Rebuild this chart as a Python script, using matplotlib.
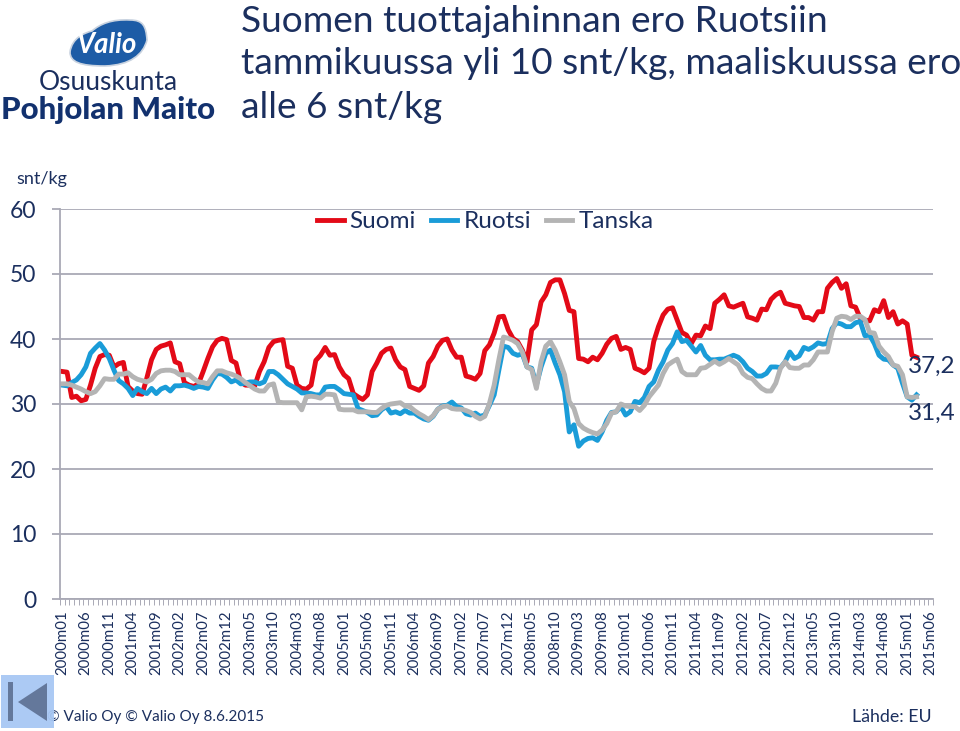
import matplotlib
matplotlib.use("Agg")
import matplotlib.pyplot as plt
from matplotlib.path import Path
from matplotlib.patches import PathPatch, Rectangle, Polygon

plt.rcParams['font.family'] = ['Lato', 'DejaVu Sans']

NAVY = '#1B2F5E'
GRID = '#A9A9B5'

suomi = [35.0,34.9,31.0,31.2,30.5,30.7,32.9,35.5,37.3,37.6,37.5,35.7,36.2,36.4,32.7,32.0,31.6,31.5,34.0,36.8,
 38.4,38.9,39.1,39.4,36.5,36.2,33.3,32.9,32.7,33.1,35.0,37.0,38.8,39.8,40.1,39.9,36.7,36.3,33.4,32.9,
 32.9,32.8,35.0,36.5,38.7,39.6,39.8,39.9,35.8,35.5,32.9,32.4,32.3,32.9,36.7,37.5,38.7,37.5,37.6,35.7,
 34.5,33.9,31.6,31.1,30.7,31.4,35.0,36.3,37.8,38.4,38.6,36.8,35.7,35.3,32.7,32.4,32.1,32.8,36.3,37.3,
 38.9,39.8,40.0,38.3,37.2,37.2,34.3,34.1,33.8,34.7,38.2,39.1,40.9,43.4,43.5,41.4,40.1,39.6,38.3,36.5,
 41.4,42.2,45.7,46.8,48.7,49.1,49.1,47.0,44.4,44.2,37.0,36.9,36.5,37.2,36.8,37.8,39.2,40.1,40.4,38.4,
 38.7,38.4,35.5,35.2,34.8,35.5,39.6,41.9,43.7,44.6,44.8,42.9,41.0,40.6,39.3,40.6,40.5,42.0,41.6,45.5,
 46.1,46.8,45.1,44.9,45.2,45.5,43.4,43.2,42.9,44.6,44.5,46.1,46.8,47.2,45.5,45.3,45.1,45.0,43.3,43.3,
 42.9,44.2,44.2,47.8,48.7,49.3,47.8,48.5,45.1,44.9,43.2,42.9,42.8,44.5,44.2,45.9,43.3,44.2,42.3,42.8,
 42.3,37.5,37.2]

ruotsi = [32.9,32.8,33.3,33.7,34.5,35.7,37.8,38.6,39.3,38.3,37.0,35.2,33.6,33.1,32.4,31.3,32.4,31.9,31.6,32.4,
 31.6,32.3,32.6,32.0,32.8,32.8,32.9,32.7,32.4,32.7,32.6,32.4,33.7,34.7,34.6,34.1,33.4,33.7,33.1,33.2,
 33.4,33.4,33.1,33.4,35.0,35.0,34.5,33.8,33.1,32.7,32.3,31.7,31.7,31.6,31.4,31.4,32.6,32.7,32.7,32.2,
 31.6,31.5,31.4,29.3,29.0,28.7,28.2,28.3,29.1,29.6,28.6,28.8,28.5,29.0,28.6,28.6,28.1,27.7,27.5,28.1,
 29.2,29.7,29.8,30.3,29.6,29.4,28.5,28.3,28.6,28.1,28.3,29.8,31.4,35.2,38.9,38.7,37.8,37.5,37.7,35.7,
 35.5,32.9,35.7,37.8,38.3,36.3,34.5,31.9,25.7,26.8,23.5,24.3,24.7,24.8,24.4,25.7,27.5,28.7,28.8,29.6,
 28.3,28.8,30.4,30.2,31.0,32.7,33.4,35.2,36.5,38.3,39.3,41.1,39.6,39.8,38.9,38.0,39.0,37.5,36.8,36.8,
 36.9,36.9,37.2,37.5,37.2,36.5,35.5,35.0,34.3,34.3,34.7,35.7,35.7,35.6,36.5,38.0,37.0,37.4,38.7,38.4,
 38.8,39.4,39.2,39.3,41.6,42.5,42.3,41.9,41.9,42.5,42.7,40.5,40.6,39.3,37.5,36.9,36.8,36.0,35.5,33.2,
 31.1,30.6,31.4]

tanska = [33.1,33.1,32.9,32.6,32.3,31.9,31.6,31.9,32.8,33.9,33.8,33.8,34.6,34.6,34.8,34.2,33.8,33.6,33.4,33.8,
 34.7,35.1,35.2,35.2,35.0,34.5,34.5,34.5,33.9,33.4,33.3,33.1,34.2,35.1,35.1,34.8,34.6,34.3,33.9,33.3,
 32.8,32.3,32.0,32.0,32.9,33.1,30.3,30.2,30.2,30.2,30.2,29.1,31.1,31.2,31.1,30.9,31.5,31.5,31.4,29.2,
 29.1,29.1,29.1,28.8,28.8,28.8,28.7,28.7,29.3,29.8,30.0,30.1,30.2,29.7,29.6,29.0,28.5,28.1,27.6,28.2,
 29.2,29.6,29.7,29.3,29.2,29.2,29.0,28.7,28.1,27.7,28.1,30.1,32.9,36.8,40.3,40.1,39.8,39.3,38.0,35.7,
 35.3,32.4,36.5,38.9,39.6,38.3,36.5,34.5,30.4,29.3,27.0,26.3,25.9,25.6,25.4,26.0,27.0,28.6,28.8,30.0,
 29.7,29.6,29.6,29.0,29.8,31.1,32.0,32.9,34.7,36.0,36.5,36.9,35.0,34.5,34.5,34.5,35.5,35.6,36.1,36.6,
 36.1,36.5,37.0,36.5,36.0,34.7,34.1,33.9,33.1,32.4,32.0,32.0,33.2,35.5,36.5,35.6,35.5,35.5,36.0,36.0,
 36.8,38.0,38.0,38.0,41.1,43.2,43.5,43.4,43.0,43.5,43.5,43.0,41.0,40.9,38.9,38.0,37.3,36.0,35.8,34.5,
 31.1,31.0,31.1]

months = [f"{y}m{m:02d}" for y in range(2000, 2016) for m in range(1, 13)][:186]
yticks = [0, 10, 20, 30, 40, 50, 60]
title_lines = ["Suomen tuottajahinnan ero Ruotsiin",
               "tammikuussa yli 10 snt/kg, maaliskuussa ero",
               "alle 6 snt/kg"]

W, H = 960, 731
fig = plt.figure(figsize=(W/100, H/100), dpi=100, facecolor='white')
L, R, T, B = 60, 933, 209, 599
ax = fig.add_axes([L/W, 1-B/H, (R-L)/W, (B-T)/H])

LW = 3.5
ax.plot(range(len(suomi)), suomi, color='#E30A17', lw=LW, label='Suomi', solid_joinstyle='round')
ax.plot(range(len(ruotsi)), ruotsi, color='#1A9CD8', lw=LW, label='Ruotsi', solid_joinstyle='round')
ax.plot(range(len(tanska)), tanska, color='#B4B4B4', lw=LW, label='Tanska', solid_joinstyle='round')

ax.set_xlim(-0.5, len(months)-0.5)
ax.set_ylim(0, 60)
ax.set_yticks(yticks)
ax.set_yticklabels([str(v) for v in yticks], fontsize=16.5, color=NAVY)
ax.tick_params(axis='y', length=6, width=1.3, color=GRID, pad=11)
ax.yaxis.grid(True, color=GRID, lw=1.3)
ax.set_axisbelow(True)

ax.set_xticks(range(0, len(months), 5))
ax.set_xticklabels(months[::5], rotation=90, fontsize=10.8, color=NAVY)
ax.tick_params(axis='x', which='major', length=0, pad=8)
ax.set_xticks([i-0.5 for i in range(len(months)+1)], minor=True)
ax.tick_params(axis='x', which='minor', length=4, width=0.7, color=GRID)

for s in ['top', 'right']:
    ax.spines[s].set_visible(False)
for s in ['left', 'bottom']:
    ax.spines[s].set_color(GRID)
    ax.spines[s].set_linewidth(1.3)

ax.legend(loc='center', bbox_to_anchor=(0.487, 0.967), ncols=3, frameon=False,
          fontsize=17.5, handlelength=1.1, handletextpad=0.25, columnspacing=0.6, labelcolor=NAVY)

ax.text(len(suomi)-1-1.8, suomi[-1]-1.4, "37,2", fontsize=17.5, color=NAVY, va='center', ha='left', clip_on=False)
ax.text(len(ruotsi)-1-1.8, ruotsi[-1]-2.9, "31,4", fontsize=17.5, color=NAVY, va='center', ha='left', clip_on=False)

# overlay in pixel coordinates for slide furniture
ov = fig.add_axes([0, 0, 1, 1], facecolor='none')
ov.set_xlim(0, W); ov.set_ylim(H, 0); ov.axis('off')

for i, line in enumerate(title_lines):
    ov.text(241, 21+43*i, line, fontsize=26.7, color=NAVY, va='center', ha='left')

ov.text(16, 179, "snt/kg", fontsize=13, color=NAVY, va='center', ha='left')
ov.text(47, 717, "© Valio Oy © Valio Oy 8.6.2015", fontsize=11, color=NAVY, va='center', ha='left')
ov.text(932, 717, "Lähde: EU", fontsize=12.8, color=NAVY, va='center', ha='right')

# logo
verts = [(70,52),(72,38),(84,33),(92,31),(100,24),(112,19),(130,20),(143,20),(146,26),(147,40),(143,55),
         (130,65),(105,66),(80,66),(70,62),(70,52)]
codes = [Path.MOVETO]+[Path.CURVE4]*15
ov.add_patch(PathPatch(Path(verts, codes), fc='#1D5CA6', ec='#C9D3E0', lw=1.2))
ov.text(107, 45, "Valio", fontsize=20, color='white', style='italic', fontweight='bold', ha='center', va='center')
ov.text(108, 83, "Osuuskunta", fontsize=19, color='#1B2F5E', fontweight='normal', ha='center', va='center')
ov.text(108, 110, "Pohjolan Maito", fontsize=22.5, color='#12316E', fontweight='black', ha='center', va='center')

# navigation button
ov.add_patch(Rectangle((1, 675), 53, 53, fc='#A8C8F4', ec='none', alpha=0.95, zorder=5))
ov.add_patch(Rectangle((8, 682), 5, 39, fc='#64789B', ec='none', zorder=6))
ov.add_patch(Polygon([(47,683),(47,721),(18,702)], fc='#64789B', ec='none', zorder=6))

fig.savefig('out.png', dpi=100)
